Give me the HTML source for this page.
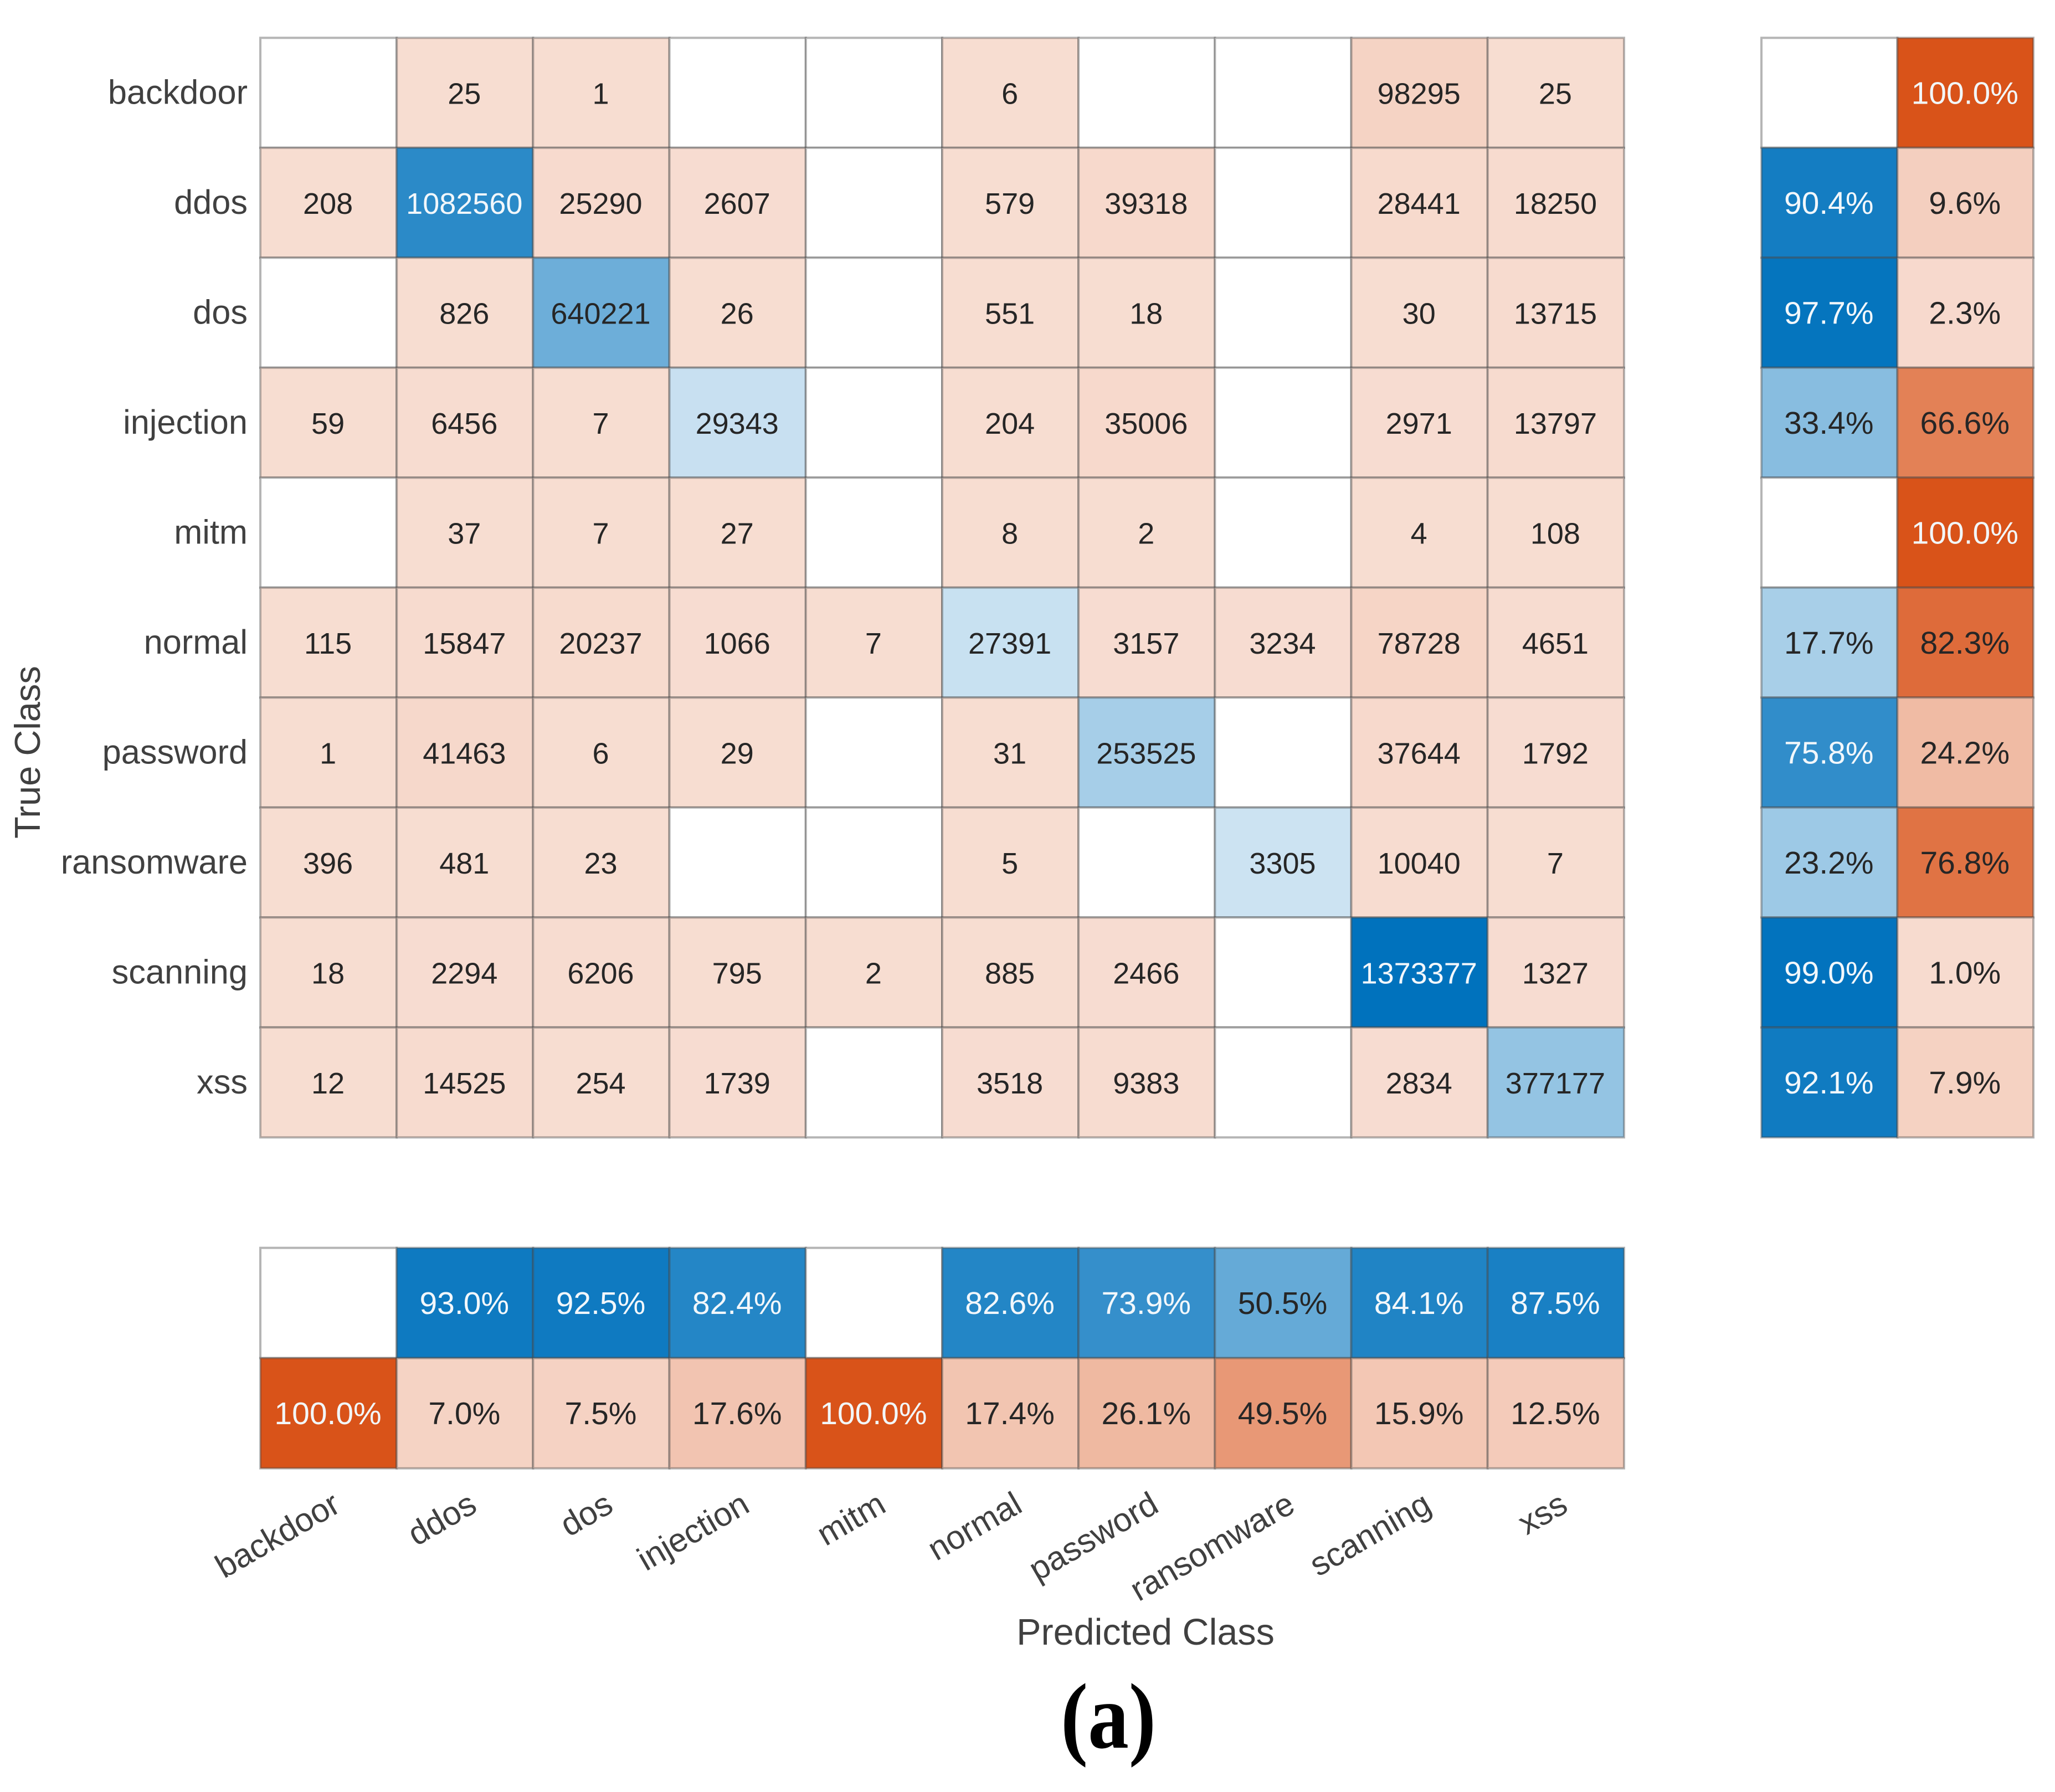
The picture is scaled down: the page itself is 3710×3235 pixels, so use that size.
<!DOCTYPE html>
<html lang="en">
<head>
<meta charset="utf-8">
<title>Confusion matrix</title>
<style>
html,body{margin:0;padding:0;background:#fff;}
svg{display:block;}
text{font-family:"Liberation Sans",sans-serif;}
</style>
</head>
<body>
<svg id="chart" xmlns="http://www.w3.org/2000/svg" width="3710" height="3235" viewBox="0 0 3710 3235">
<rect x="0" y="0" width="3710" height="3235" fill="#ffffff"></rect>
<g id="cells"></g>
<g id="row-summary"></g>
<g id="col-summary"></g>
<g id="labels"></g>
<text x="72" y="1358" transform="rotate(-90 72 1358)" text-anchor="middle" font-size="65" fill="#404040">True Class</text>
<text x="2068" y="2969" text-anchor="middle" font-size="66.5" fill="#404040">Predicted Class</text>
<text x="2001" y="3155" text-anchor="middle" font-size="168" font-weight="700" fill="#000000" style="font-family:'Liberation Serif',serif" textLength="172" lengthAdjust="spacingAndGlyphs">(a)</text>
</svg>
<script>
const classes = ["backdoor","ddos","dos","injection","mitm","normal","password","ransomware","scanning","xss"];
const matrix = [
  [0,25,1,0,0,6,0,0,98295,25],
  [208,1082560,25290,2607,0,579,39318,0,28441,18250],
  [0,826,640221,26,0,551,18,0,30,13715],
  [59,6456,7,29343,0,204,35006,0,2971,13797],
  [0,37,7,27,0,8,2,0,4,108],
  [115,15847,20237,1066,7,27391,3157,3234,78728,4651],
  [1,41463,6,29,0,31,253525,0,37644,1792],
  [396,481,23,0,0,5,0,3305,10040,7],
  [18,2294,6206,795,2,885,2466,0,1373377,1327],
  [12,14525,254,1739,0,3518,9383,0,2834,377177]
];
const rowCorrect = [0,90.4,97.7,33.4,0,17.7,75.8,23.2,99.0,92.1];
const rowWrong = [100.0,9.6,2.3,66.6,100.0,82.3,24.2,76.8,1.0,7.9];
const colCorrect = [0,93.0,92.5,82.4,0,82.6,73.9,50.5,84.1,87.5];
const colWrong = [100.0,7.0,7.5,17.6,100.0,17.4,26.1,49.5,15.9,12.5];

const NS = "http://www.w3.org/2000/svg";
const BLUE = [0,114,189];
const ORANGE = [217,83,25];
const matLeft = 470, matTop = 68.3, cellW = 246.2, cellH = 198.5;
const sideLeft = 3180, sideW = 245.5;
const bottomTop = 2252.7, bottomH = 199;
const xScale = i => matLeft + i * cellW;
const yScale = j => matTop + j * cellH;
const sideX = k => sideLeft + k * sideW;
const bottomY = k => bottomTop + k * bottomH;
const maxCount = Math.max(...matrix.flat());

function blend(rgb, t){
  const a = 0.2 + 0.8 * t;
  return rgb.map(c => Math.round(255 - (255 - c) * a));
}
function cssColor(c){ return "rgb(" + c.join(",") + ")"; }
function textColor(c){
  const lum = 0.299*c[0] + 0.587*c[1] + 0.114*c[2];
  return lum < 128 ? "#f2f7fb" : "#262626";
}
function drawCell(parent, x, y, w, h, fillRgb, label, size, name){
  const r = document.createElementNS(NS, "rect");
  r.setAttribute("x", x);
  r.setAttribute("y", y);
  r.setAttribute("width", w);
  r.setAttribute("height", h);
  r.setAttribute("fill", fillRgb ? cssColor(fillRgb) : "#ffffff");
  r.setAttribute("stroke", "rgba(70,70,70,0.4)");
  r.setAttribute("stroke-width", "4");
  
  
  parent.appendChild(r);
  if (label !== null) {
    const t = document.createElementNS(NS, "text");
    t.setAttribute("x", x + w / 2 - 1);
    t.setAttribute("y", y + h / 2 + 20);
    t.setAttribute("text-anchor", "middle");
    t.setAttribute("font-size", size);
    t.setAttribute("fill", textColor(fillRgb));
    
    
    t.textContent = label;
    parent.appendChild(t);
  }
}

const cellsG = document.getElementById("cells");
matrix.forEach((row, j) => {
  row.forEach((v, i) => {
    const rgb = v > 0 ? blend(i === j ? BLUE : ORANGE, v / maxCount) : null;
    drawCell(cellsG, xScale(i), yScale(j), cellW, cellH, rgb, v > 0 ? String(v) : null, 54, "cell-" + classes[j] + "-" + classes[i]);
  });
});

const rowG = document.getElementById("row-summary");
classes.forEach((c, j) => {
  const good = rowCorrect[j], bad = rowWrong[j];
  drawCell(rowG, sideX(0), yScale(j), sideW, cellH, good > 0 ? blend(BLUE, good / 100) : null, good > 0 ? good.toFixed(1) + "%" : null, 57, "recall-" + c);
  drawCell(rowG, sideX(1), yScale(j), sideW, cellH, bad > 0 ? blend(ORANGE, bad / 100) : null, bad > 0 ? bad.toFixed(1) + "%" : null, 57, "miss-rate-" + c);
});

const colG = document.getElementById("col-summary");
classes.forEach((c, i) => {
  const good = colCorrect[i], bad = colWrong[i];
  drawCell(colG, xScale(i), bottomY(0), cellW, bottomH, good > 0 ? blend(BLUE, good / 100) : null, good > 0 ? good.toFixed(1) + "%" : null, 57, "precision-" + c);
  drawCell(colG, xScale(i), bottomY(1), cellW, bottomH, bad > 0 ? blend(ORANGE, bad / 100) : null, bad > 0 ? bad.toFixed(1) + "%" : null, 57, "false-discovery-" + c);
});

const labelsG = document.getElementById("labels");
classes.forEach((c, j) => {
  const t = document.createElementNS(NS, "text");
  t.setAttribute("x", 447);
  t.setAttribute("y", yScale(j) + cellH / 2 + 20);
  t.setAttribute("text-anchor", "end");
  t.setAttribute("font-size", "61.3");
  t.setAttribute("fill", "#404040");
  
  
  t.textContent = c;
  labelsG.appendChild(t);
});
classes.forEach((c, i) => {
  const x = xScale(i) + cellW / 2 + 25, y = 2727;
  const t = document.createElementNS(NS, "text");
  t.setAttribute("x", x);
  t.setAttribute("y", y);
  t.setAttribute("text-anchor", "end");
  t.setAttribute("font-size", "60");
  t.setAttribute("fill", "#404040");
  t.setAttribute("transform", "rotate(-30 " + x + " " + y + ")");
  
  
  t.textContent = c;
  labelsG.appendChild(t);
});
</script>
</body>
</html>
